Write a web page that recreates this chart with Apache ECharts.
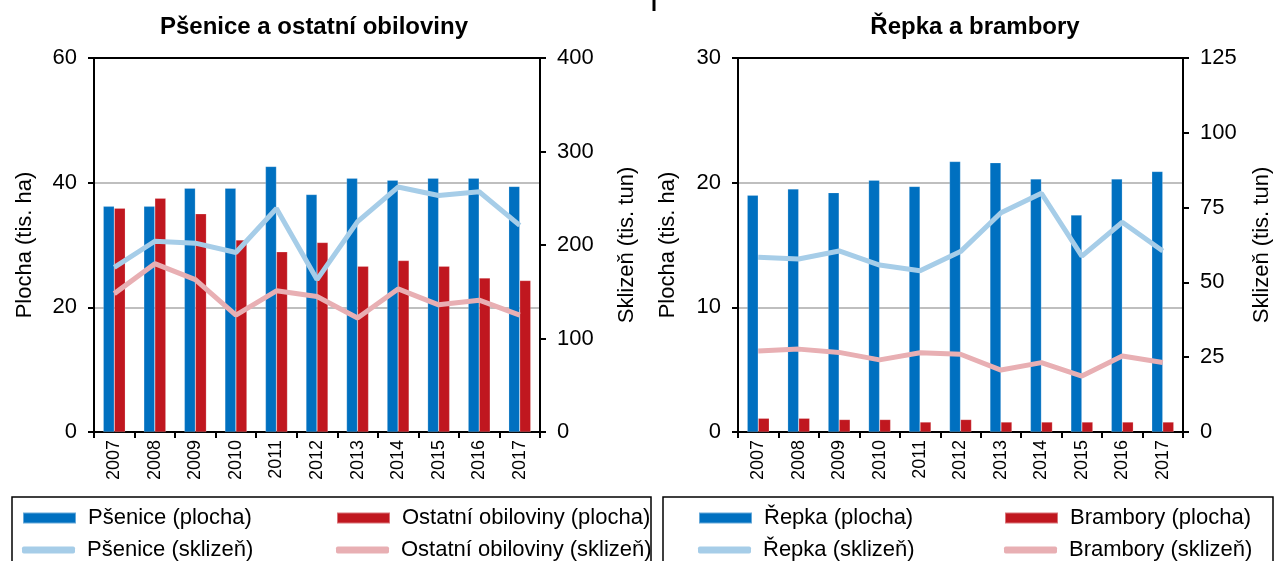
<!DOCTYPE html>
<html>
<head>
<meta charset="utf-8">
<script src="https://cdn.jsdelivr.net/npm/echarts@6/dist/echarts.min.js"></script>
<style>
  html, body { margin: 0; padding: 0; background: #fff; }
  #chart { width: 1274px; height: 561px; }
</style>
</head>
<body>
<div id="chart"></div>
<script>
// roky
var years = ["2007", "2008", "2009", "2010", "2011", "2012", "2013", "2014", "2015", "2016", "2017"];

// Pšenice a ostatní obiloviny – plocha (tis. ha), sklizeň (tis. tun)
var psenicePlocha = [36.2, 36.2, 39.1, 39.1, 42.6, 38.1, 40.7, 40.4, 40.7, 40.7, 39.4];
var obilPlocha = [35.9, 37.5, 35.0, 30.8, 28.9, 30.4, 26.6, 27.5, 26.6, 24.7, 24.3];
var peniceSklizen = [176, 204, 202, 192, 239, 163, 225, 262, 253, 257, 221];
var obilSklizen = [148, 180, 163, 125, 151, 145, 122, 153, 136, 141, 125];

// Řepka a brambory
var repkaPlocha = [19.0, 19.5, 19.2, 20.2, 19.7, 21.7, 21.6, 20.3, 17.4, 20.3, 20.9];
var bramPlocha = [1.1, 1.1, 1.0, 1.0, 0.8, 1.0, 0.8, 0.8, 0.8, 0.8, 0.8];
var repkaSklizen = [58.4, 57.8, 60.5, 55.8, 53.9, 60.3, 73.3, 79.8, 58.8, 70.1, 60.5];
var bramSklizen = [27.1, 27.7, 26.6, 24.1, 26.5, 26.0, 20.7, 23.2, 18.7, 25.4, 23.2];

var leftTicks = { max: 60, interval: 20 };
var rightTicks = { max: 400, interval: 100 };
var leftTicks2 = { max: 30, interval: 10 };
var rightTicks2 = { max: 125, interval: 25 };

var FONT = "Liberation Sans";
var BLUE = "#0070c0", RED = "#c0171f", LBLUE = "#a6cde8", PINK = "#e8afb3";

function xAxis(grid) {
  return {
    type: "category",
    gridIndex: grid,
    data: years,
    axisLine: { lineStyle: { color: "#000", width: 2 } },
    axisTick: { show: true, interval: 0, length: 6, lineStyle: { color: "#000", width: 2 } },
    axisLabel: { rotate: 90, interval: 0, fontFamily: FONT, fontSize: 18, color: "#000", margin: 8 }
  };
}

function yAxis(grid, pos, t, name, gap, showSplit) {
  return {
    type: "value",
    gridIndex: grid,
    position: pos,
    min: 0,
    max: t.max,
    interval: t.interval,
    name: name,
    nameLocation: "middle",
    nameRotate: 90,
    nameGap: gap,
    nameTextStyle: { fontFamily: FONT, fontSize: 22, color: "#000" },
    axisLine: { show: true, lineStyle: { color: "#000", width: 2 } },
    axisTick: { show: true, length: 6, lineStyle: { color: "#000", width: 2 } },
    axisLabel: { fontFamily: FONT, fontSize: 22, color: "#000", margin: 17 },
    splitLine: { show: showSplit, showMinLine: false, showMaxLine: false, lineStyle: { color: "#bfbfbf", width: 2 } }
  };
}

function bar(name, data, color, xi, yi) {
  return {
    name: name, type: "bar", xAxisIndex: xi, yAxisIndex: yi, data: data,
    barWidth: 11, barGap: "0%",
    itemStyle: { color: color, borderColor: "rgba(255,255,255,0.4)", borderWidth: 0.5 }
  };
}

function line(name, data, color, xi, yi) {
  return {
    name: name, type: "line", xAxisIndex: xi, yAxisIndex: yi, data: data,
    symbol: "none", z: 5,
    lineStyle: { color: color, width: 5 },
    itemStyle: { color: color }
  };
}

function leg(name, left, top, isLine) {
  return {
    data: [{ name: name, icon: isLine ? "roundRect" : "rect" }],
    left: left, top: top,
    itemWidth: 53, itemHeight: isLine ? 7 : 11,
    padding: 0,
    textStyle: { fontFamily: FONT, fontSize: 22, color: "#000", padding: [0, 0, 0, 7] }
  };
}

var chart = echarts.init(document.getElementById("chart"));
chart.setOption({
  animation: false,
  backgroundColor: "#fff",
  grid: [
    { left: 94, right: 734, top: 58, bottom: 129, show: true, borderColor: "#000", borderWidth: 2, backgroundColor: "transparent" },
    { left: 738, right: 87, top: 58, bottom: 129, show: true, borderColor: "#000", borderWidth: 2, backgroundColor: "transparent" }
  ],
  xAxis: [xAxis(0), xAxis(1)],
  yAxis: [
    yAxis(0, "left", leftTicks, "Plocha (tis. ha)", 58, true),
    yAxis(0, "right", rightTicks, "Sklizeň (tis. tun)", 76, false),
    yAxis(1, "left", leftTicks2, "Plocha (tis. ha)", 59, true),
    yAxis(1, "right", rightTicks2, "Sklizeň (tis. tun)", 68, false)
  ],
  legend: [
    leg("Pšenice (plocha)", 22, 507, false),
    leg("Ostatní obiloviny (plocha)", 336, 507, false),
    leg("Pšenice (sklizeň)", 22, 539, true),
    leg("Ostatní obiloviny (sklizeň)", 336, 539, true),
    leg("Řepka (plocha)", 698, 507, false),
    leg("Brambory (plocha)", 1004, 507, false),
    leg("Řepka (sklizeň)", 698, 539, true),
    leg("Brambory (sklizeň)", 1004, 539, true)
  ],
  graphic: [
    { type: "text", style: { x: 314, y: 27, text: "Pšenice a ostatní obiloviny", textAlign: "center", textVerticalAlign: "middle", font: "bold 24px 'Liberation Sans'", fill: "#000" } },
    { type: "text", style: { x: 975, y: 27, text: "Řepka a brambory", textAlign: "center", textVerticalAlign: "middle", font: "bold 24px 'Liberation Sans'", fill: "#000" } },
    { type: "line", shape: { x1: 654, y1: 0, x2: 654, y2: 11 }, style: { stroke: "#000", lineWidth: 3 } },
    { type: "rect", shape: { x: 12, y: 497, width: 639, height: 80 }, style: { fill: "none", stroke: "#000", lineWidth: 1.5 } },
    { type: "rect", shape: { x: 663, y: 497, width: 610, height: 80 }, style: { fill: "none", stroke: "#000", lineWidth: 1.5 } }
  ],
  series: [
    bar("Pšenice (plocha)", psenicePlocha, BLUE, 0, 0),
    bar("Ostatní obiloviny (plocha)", obilPlocha, RED, 0, 0),
    line("Pšenice (sklizeň)", peniceSklizen, LBLUE, 0, 1),
    line("Ostatní obiloviny (sklizeň)", obilSklizen, PINK, 0, 1),
    bar("Řepka (plocha)", repkaPlocha, BLUE, 1, 2),
    bar("Brambory (plocha)", bramPlocha, RED, 1, 2),
    line("Řepka (sklizeň)", repkaSklizen, LBLUE, 1, 3),
    line("Brambory (sklizeň)", bramSklizen, PINK, 1, 3)
  ]
});
</script>
</body>
</html>
